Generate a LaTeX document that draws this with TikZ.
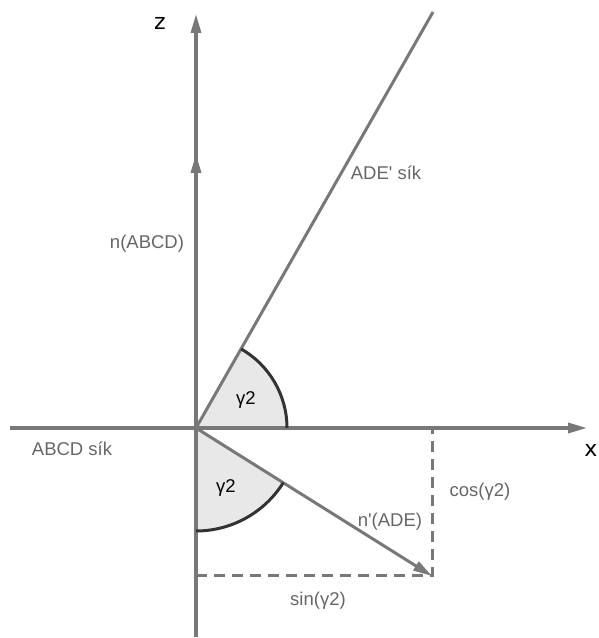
\documentclass[tikz,border=0pt]{standalone}
\usepackage{fontspec}
\setmainfont{Liberation Sans}
\newfontfamily\axisfont{DejaVu Sans}
\usetikzlibrary{arrows.meta}
\definecolor{axisGrey}{HTML}{787878}
\definecolor{labelGrey}{HTML}{666666}
\definecolor{arcInk}{HTML}{333333}
\definecolor{wedgeFill}{HTML}{E8E8E8}

\begin{document}
\begin{tikzpicture}[x=1pt,y=1pt,
    axis/.style={draw=axisGrey,line width=3.4pt,-{Triangle[length=19pt,width=10pt]}},
    plane/.style={draw=axisGrey,line width=3pt},
    proj/.style={draw=axisGrey,line width=3pt,dash pattern=on 11pt off 7pt},
    lbl/.style={text=labelGrey,font=\fontsize{18.5}{20}\selectfont,inner sep=0pt},
    axlbl/.style={text=black,font=\axisfont\fontsize{22}{24}\selectfont,inner sep=0pt}]
  \useasboundingbox (0,0) rectangle (598,638);
  % Key points
  \coordinate (O) at (196,210);
  \coordinate (zTop) at (196,624);
  \coordinate (zBot) at (196,1);
  \coordinate (xLeft) at (10,210);
  \coordinate (xTip) at (587,210);
  \coordinate (nTip) at (196,484);
  \coordinate (adeEnd) at (433,626);
  \coordinate (nPrime) at (432,62);
  \coordinate (cosFoot) at (432,210);
  \coordinate (sinFoot) at (196,62);
  % Angle wedges
  \fill[wedgeFill] (O) -- ++(0:91) arc[start angle=0,end angle=60.3,radius=91] -- cycle;
  \fill[wedgeFill] (O) -- ++(-90:103) arc[start angle=-90,end angle=-32.1,radius=103] -- cycle;
  % Projections of n'(ADE)
  \draw[proj] (sinFoot) -- (nPrime) -- (cosFoot);
  % Axes and normal vectors
  \draw[axis] (zBot) -- (zTop);
  \draw[axis] (xLeft) -- (xTip);
  \draw[axis] (O) -- (nTip);
  \draw[plane] (O) -- (adeEnd);
  \draw[axis,line width=3pt] (O) -- (nPrime);
  % Arc outlines
  \draw[arcInk,line width=3pt] ([shift={(0:91)}]O) arc[start angle=0,end angle=60.3,radius=91];
  \draw[arcInk,line width=3pt] ([shift={(-90:103)}]O) arc[start angle=-90,end angle=-32.1,radius=103];
  % Labels
  \node[axlbl] (zLabel) at (160,615) {z};
  \node[axlbl] (xLabel) at (591,188) {x};
  \node[lbl] (adeLabel) at (386,465) {ADE\textquotesingle{} sík};
  \node[lbl] (nLabel) at (147,394) {n(ABCD)};
  \node[lbl,text=black] (gUp) at (246,238) {γ2};
  \node[lbl,text=black] (gDown) at (226,150) {γ2};
  \node[lbl] (abcdLabel) at (72,189) {ABCD sík};
  \node[lbl] (npLabel) at (390,116) {n\textquotesingle(ADE)};
  \node[lbl] (cosLabel) at (480,146) {cos(γ2)};
  \node[lbl] (sinLabel) at (318,37) {sin(γ2)};
\end{tikzpicture}
\end{document}
